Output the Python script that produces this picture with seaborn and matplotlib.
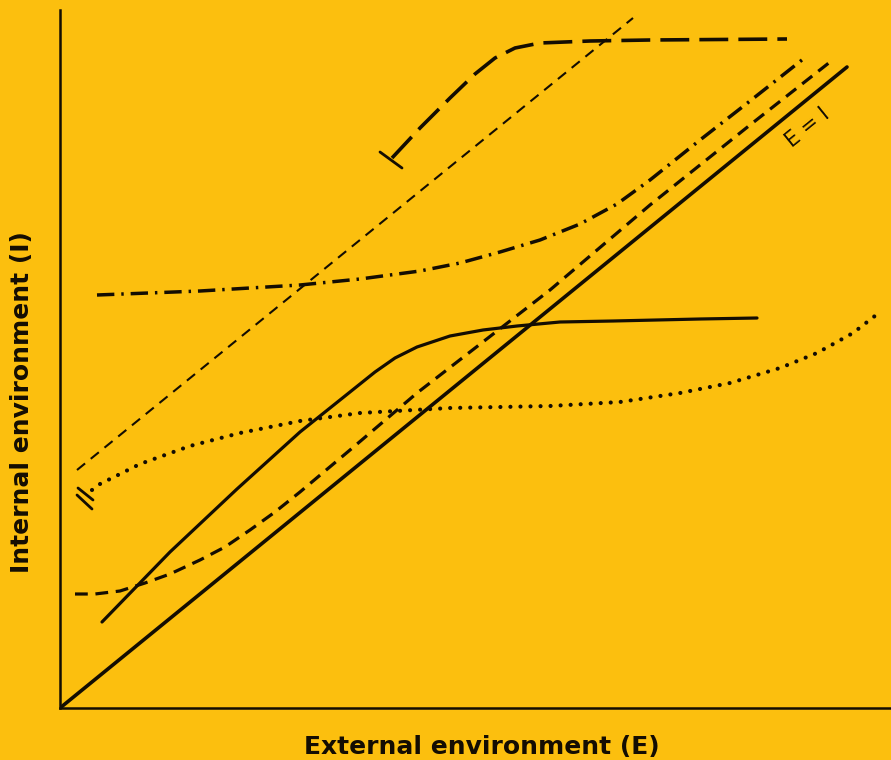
import matplotlib
matplotlib.use("Agg")
import matplotlib.pyplot as plt
import seaborn as sns

# Values (E along x, I along y, arbitrary units)
identity_e = [0, 787]
identity_i = [0, 641]

dashed_e = [15, 35, 60, 85, 110, 140, 165, 190, 215, 240, 290, 357, 490, 590, 690, 770]
dashed_i = [114, 114, 117, 125, 134, 148, 161, 178, 196, 216, 258, 315, 418, 503, 583, 646]

dashdot_e = [37, 140, 240, 300, 360, 400, 440, 480, 520, 557, 590, 640, 690, 747]
dashdot_i = [413, 417, 423, 429, 437, 445, 456, 468, 484, 504, 528, 568, 607, 652]

plateau_e = [42, 110, 177, 240, 290, 315, 335, 357, 390, 423, 457, 500, 553, 640, 697]
plateau_i = [86, 156, 219, 276, 316, 336, 350, 361, 372, 378, 382, 386, 387, 389, 390]

thin_e = [17, 573]
thin_i = [238, 690]

long_e = [332, 360, 390, 415, 435, 455, 480, 530, 590, 727]
long_i = [550, 580, 610, 634, 650, 660, 665, 667, 668, 669]

dotted_e = [32, 40, 80, 130, 180, 240, 300, 390, 490, 560, 620, 670, 720, 757, 793, 820]
dotted_i = [218, 224, 244, 262, 275, 287, 295, 300, 302, 306, 315, 325, 340, 355, 375, 396]

# little end marks
tick_e = [320, 342]
tick_i = [556, 540]
break_a_e = [18, 33]
break_a_i = [220, 208]
break_b_e = [17, 32]
break_b_i = [213, 199]

bg = "#FCBF0E"
ink = "#140d02"

sns.set_style("ticks", {"axes.facecolor": bg, "figure.facecolor": bg,
                        "axes.edgecolor": ink})
plt.rcParams["font.family"] = ["DejaVu Sans"]

fig = plt.figure(figsize=(8.91, 7.60), dpi=100)
ax = fig.add_axes([60 / 891, 52 / 760, 831 / 891, 698 / 760])

sns.lineplot(x=identity_e, y=identity_i, sort=False, color=ink, lw=2.6, ax=ax,
             solid_capstyle="round")
sns.lineplot(x=dashed_e, y=dashed_i, sort=False, color=ink, lw=2.3, ax=ax,
             linestyle=(0, (4, 2.4)))
sns.lineplot(x=dashdot_e, y=dashdot_i, sort=False, color=ink, lw=2.5, ax=ax,
             linestyle=(0, (5, 2, 0.7, 2)))
sns.lineplot(x=plateau_e, y=plateau_i, sort=False, color=ink, lw=2.3, ax=ax,
             solid_capstyle="round", solid_joinstyle="round")
sns.lineplot(x=thin_e, y=thin_i, sort=False, color=ink, lw=1.5, ax=ax,
             linestyle=(0, (5, 3.5)))
sns.lineplot(x=long_e, y=long_i, sort=False, color=ink, lw=2.6, ax=ax,
             linestyle=(0, (8, 2.8)))
sns.lineplot(x=dotted_e, y=dotted_i, sort=False, color=ink, lw=3.0, ax=ax,
             linestyle=(0, (0.01, 2.4)), dash_capstyle="round")

for xs, ys in [(tick_e, tick_i), (break_a_e, break_a_i), (break_b_e, break_b_i)]:
    ax.plot(xs, ys, color=ink, lw=2.0)

ax.text(748, 580, "E = I", rotation=39, ha="center", va="center",
        fontsize=15, color=ink)

ax.set_xlim(0, 831)
ax.set_ylim(0, 698)
ax.set_xticks([])
ax.set_yticks([])
for side in ["top", "right"]:
    ax.spines[side].set_visible(False)
for side in ["left", "bottom"]:
    ax.spines[side].set_linewidth(1.8)

fig.text(482 / 891, 1 - 747 / 760, "External environment (E)", ha="center",
         va="center", fontsize=18, fontweight="bold", color=ink)
fig.text(22 / 891, 1 - 402 / 760, "Internal environment (I)", rotation=90,
         ha="center", va="center", fontsize=18, fontweight="bold", color=ink)

fig.savefig("out.png", dpi=100, facecolor=bg)
